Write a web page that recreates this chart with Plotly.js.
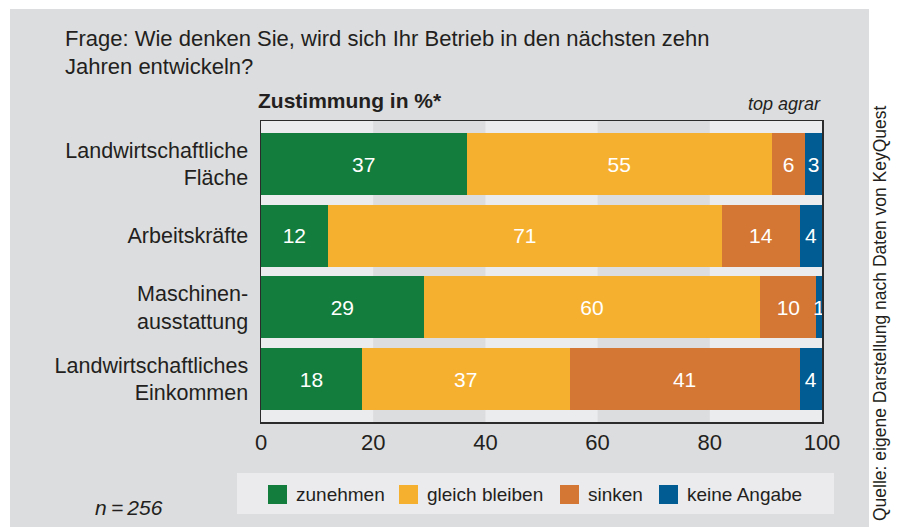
<!DOCTYPE html>
<html>
<head>
<meta charset="utf-8">
<script src="https://cdn.plot.ly/plotly-3.0.1.min.js"></script>
<style>html,body{margin:0;padding:0;background:#fff}#chart{width:898px;height:527px}</style>
</head>
<body>
<div id="chart"></div>
<script>
// ---- data ----
const categories = ['Landwirtschaftliche<br>Fläche', 'Arbeitskräfte', 'Maschinen-<br>ausstattung', 'Landwirtschaftliches<br>Einkommen'];
const seriesNames = ['zunehmen', 'gleich bleiben', 'sinken', 'keine Angabe'];
const zunehmen = [37, 12, 29, 18];
const gleichBleiben = [55, 71, 60, 37];
const sinken = [6, 14, 10, 41];
const keineAngabe = [3, 4, 1, 4];
const xTicks = [0, 20, 40, 60, 80, 100];

// ---- styles ----
const colors = ['#137d3d', '#f6b030', '#d57734', '#005c92'];
const FONT = '"Liberation Sans", Arial, Helvetica, sans-serif';
const TXT = '#231f20';
const PANEL = '#dcdddf';
const LIGHT = '#ebecee';

// pixel -> paper helpers (plot area 261..822 x 121..422)
const L = 261, R = 822, T = 121, B = 422;
const px = x => (x - L) / (R - L);
const py = y => (B - y) / (B - T);

const allSeries = [zunehmen, gleichBleiben, sinken, keineAngabe];
const traces = allSeries.map((vals, i) => ({
  type: 'bar',
  orientation: 'h',
  name: seriesNames[i],
  y: categories,
  x: vals,
  width: 0.865,
  marker: {color: colors[i], line: {width: 0}},
  text: vals.map(String),
  textposition: 'inside',
  insidetextanchor: 'middle',
  constraintext: 'none',
  textangle: 0,
  textfont: {family: FONT, size: 21, color: '#ffffff'},
  hoverinfo: 'skip',
  showlegend: false
}));

const shapes = [];
// gray panel
shapes.push({type: 'rect', xref: 'paper', yref: 'paper', x0: px(10), x1: px(869), y0: py(9), y1: py(540),
  fillcolor: PANEL, line: {width: 0}, layer: 'below'});
// light bands
for (let i = 0; i + 1 < xTicks.length; i += 2) {
  shapes.push({type: 'rect', xref: 'x', yref: 'paper', x0: xTicks[i], x1: xTicks[i + 1], y0: 0, y1: 1,
    fillcolor: LIGHT, line: {width: 0}, layer: 'below'});
}
// legend box
shapes.push({type: 'rect', xref: 'paper', yref: 'paper', x0: px(237), x1: px(834), y0: py(514), y1: py(473),
  fillcolor: '#ebebed', line: {width: 0}, layer: 'above'});
const legendX = [268, 399, 560, 659];
const annotations = [];
seriesNames.forEach((n, i) => {
  shapes.push({type: 'rect', xref: 'paper', yref: 'paper', x0: px(legendX[i]), x1: px(legendX[i] + 19),
    y0: py(504), y1: py(485), fillcolor: colors[i], line: {width: 0}, layer: 'above'});
  annotations.push({xref: 'paper', yref: 'paper', x: px(legendX[i] + 26), y: py(494.5), xanchor: 'left', yanchor: 'middle',
    text: n, showarrow: false, font: {family: FONT, size: 19, color: TXT}});
});

annotations.push(
  {xref: 'paper', yref: 'paper', x: px(63), y: py(38), xanchor: 'left', yanchor: 'middle', showarrow: false,
   text: 'Frage: Wie denken Sie, wird sich Ihr Betrieb in den nächsten zehn', font: {family: FONT, size: 22, color: TXT}},
  {xref: 'paper', yref: 'paper', x: px(63), y: py(66), xanchor: 'left', yanchor: 'middle', showarrow: false,
   text: 'Jahren entwickeln?', font: {family: FONT, size: 22, color: TXT}},
  {xref: 'paper', yref: 'paper', x: px(256), y: py(100), xanchor: 'left', yanchor: 'middle', showarrow: false,
   text: '<b>Zustimmung in %*</b>', font: {family: FONT, size: 21, color: TXT}},
  {xref: 'paper', yref: 'paper', x: px(823), y: py(104), xanchor: 'right', yanchor: 'middle', showarrow: false,
   text: '<i>top agrar</i>', font: {family: FONT, size: 18, color: TXT}},
  {xref: 'paper', yref: 'paper', x: px(93), y: py(507), xanchor: 'left', yanchor: 'middle', showarrow: false,
   text: '<i>n\u2009=\u2009256</i>', font: {family: FONT, size: 21, color: TXT}},
  {xref: 'paper', yref: 'paper', x: px(880), y: py(313), xanchor: 'center', yanchor: 'middle', showarrow: false,
   textangle: -90, text: 'Quelle: eigene Darstellung nach Daten von KeyQuest', font: {family: FONT, size: 17.5, color: TXT}}
);

const layout = {
  width: 898, height: 527,
  margin: {l: L, r: 898 - R, t: T, b: 527 - B, pad: 0},
  paper_bgcolor: '#ffffff',
  plot_bgcolor: PANEL,
  barmode: 'stack',
  barnorm: 'percent',
  bargap: 0.1,
  showlegend: false,
  font: {family: FONT, color: TXT},
  xaxis: {
    range: [0, 100], tickvals: xTicks, ticktext: xTicks.map(String), ticks: '', showgrid: false, zeroline: false,
    showline: true, mirror: true, linecolor: '#2b2b2b', linewidth: 1.5,
    tickfont: {family: FONT, size: 22, color: TXT}, ticklabelstandoff: 0, fixedrange: true
  },
  yaxis: {
    type: 'category', range: [3.6, -0.6], ticks: '', showgrid: false, zeroline: false,
    showline: true, mirror: true, linecolor: '#2b2b2b', linewidth: 1.5,
    tickfont: {family: FONT, size: 21.5, color: TXT}, ticklabelstandoff: 7, fixedrange: true
  },
  shapes: shapes,
  annotations: annotations
};

Plotly.newPlot('chart', traces, layout, {displayModeBar: false, staticPlot: true});
</script>
</body>
</html>
